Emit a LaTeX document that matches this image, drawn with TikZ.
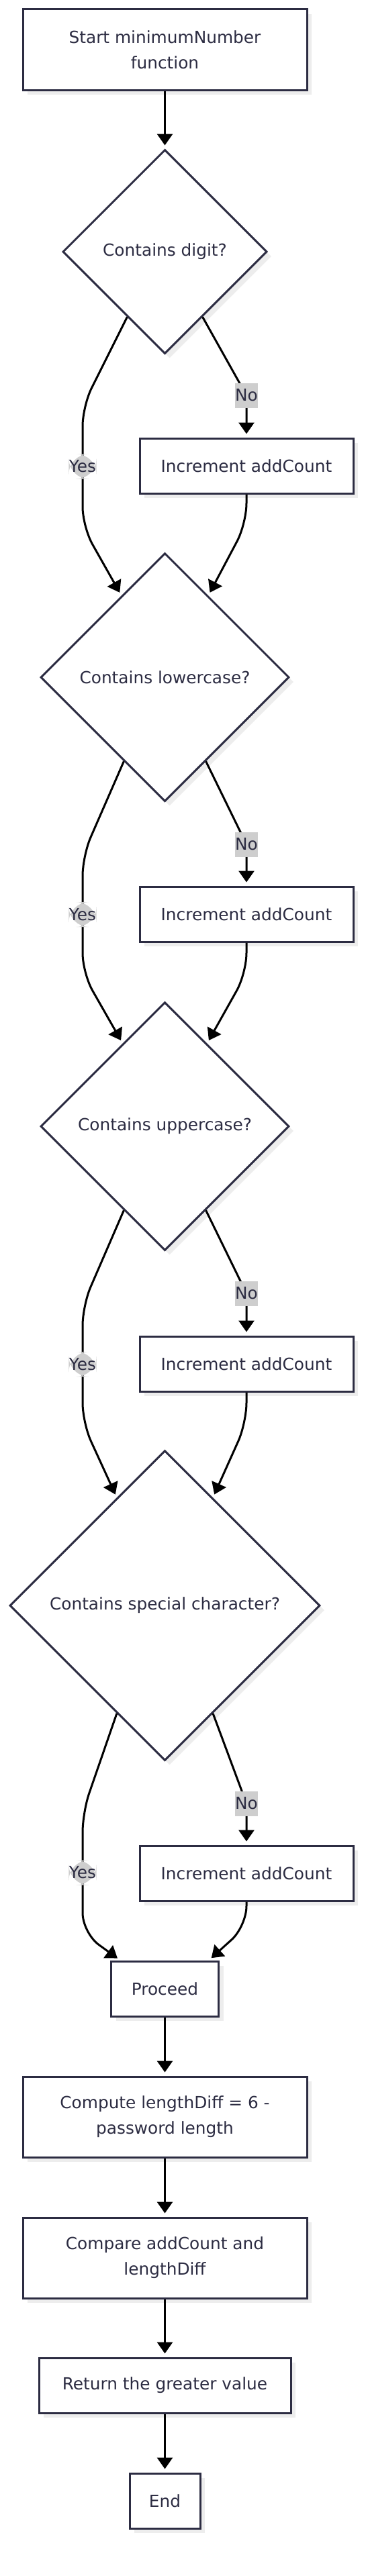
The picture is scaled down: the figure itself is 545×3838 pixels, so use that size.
\documentclass[tikz,border=0pt]{standalone}
\usepackage{fontspec}
\setmainfont{DejaVu Sans}
\usepackage{xcolor}
\usepackage{tikz}
\usetikzlibrary{shapes.geometric, arrows.meta, calc, shadows}

\definecolor{nodeline}{RGB}{44,44,66}
\definecolor{labelbg}{RGB}{206,206,206}

\begin{document}
\begin{tikzpicture}[x=1pt, y=-1pt]

\tikzstyle{procbox}=[rectangle, draw=nodeline, line width=3pt, fill=white, text=nodeline, align=center, inner sep=0pt, font=\fontsize{24.8}{38}\selectfont, drop shadow={shadow xshift=7pt, shadow yshift=-7pt, fill=black!7, opacity=1}]
\tikzstyle{decision}=[diamond, aspect=1, draw=nodeline, line width=3pt, fill=white, text=nodeline, inner sep=0pt, font=\fontsize{24.8}{38}\selectfont, drop shadow={shadow xshift=7pt, shadow yshift=-7pt, fill=black!7, opacity=1}]
\tikzstyle{edgelabel}=[fill=labelbg, text=nodeline, inner xsep=0.5pt, inner ysep=0pt, minimum height=37pt, font=\fontsize{24.8}{38}\selectfont]
\tikzstyle{flow}=[draw=black, line width=3pt, rounded corners=30pt, shorten >=5pt, -{Triangle[length=17pt, width=23pt]}]

\useasboundingbox (0,0) rectangle (545,3838);

\node (start) at (245.5,74) [procbox, minimum width=423pt, minimum height=120pt] {Start minimumNumber\\function};
\node (digit) at (245.5,375) [decision, minimum size=304pt] {Contains digit?};
\node (inc1) at (367,694) [procbox, minimum width=318pt, minimum height=82pt] {Increment addCount};
\node (lower) at (245.5,1009) [decision, minimum size=370pt] {Contains lowercase?};
\node (inc2) at (367,1362) [procbox, minimum width=318pt, minimum height=82pt] {Increment addCount};
\node (upper) at (245.5,1678) [decision, minimum size=370pt] {Contains uppercase?};
\node (inc3) at (367,2032) [procbox, minimum width=318pt, minimum height=82pt] {Increment addCount};
\node (special) at (245.5,2392) [decision, minimum size=462pt] {Contains special character?};
\node (inc4) at (367,2791) [procbox, minimum width=318pt, minimum height=82pt] {Increment addCount};
\node (proceed) at (245.5,2963) [procbox, minimum width=160pt, minimum height=82pt] {Proceed};
\node (diff) at (245.5,3154) [procbox, minimum width=423pt, minimum height=120pt] {Compute lengthDiff = 6 -\\password length};
\node (compare) at (245.5,3364) [procbox, minimum width=423pt, minimum height=120pt] {Compare addCount and\\lengthDiff};
\node (result) at (245.5,3554) [procbox, minimum width=375pt, minimum height=82pt] {Return the greater value};
\node (end) at (245.5,3726) [procbox, minimum width=105pt, minimum height=82pt] {End};

\draw [flow] (start) -- (digit);

% digit
\draw [flow] (digit.240) -- (123,605) -- node [edgelabel] (yes1) {Yes} (123,785) -- (lower.118);
\draw [flow, rounded corners=15pt] (digit.-60) -- (367,589) -- (inc1.north);
\node (no1) at (367,589) [edgelabel] {No};
\draw [flow] (inc1.south) -- (367,780) -- (lower.62);

% lowercase
\draw [flow] (lower.244) -- (123,1275) -- node [edgelabel] (yes2) {Yes} (123,1450) -- (upper.117);
\draw [flow, rounded corners=15pt] (lower.-64) -- (367,1258) -- (inc2.north);
\node (no2) at (367,1258) [edgelabel] {No};
\draw [flow] (inc2.south) -- (367,1450) -- (upper.63);

% uppercase
\draw [flow] (upper.244) -- (123,1945) -- node [edgelabel] (yes3) {Yes} (123,2120) -- (special.114);
\draw [flow, rounded corners=15pt] (upper.-64) -- (367,1927) -- (inc3.north);
\node (no3) at (367,1927) [edgelabel] {No};
\draw [flow] (inc3.south) -- (367,2120) -- (special.66);

% special character
\draw [flow] (special.246) -- (123,2700) -- node [edgelabel] (yes4) {Yes} (123,2880) -- ($(proceed.north west)+(15,0)$);
\draw [flow, rounded corners=15pt] (special.-66) -- (367,2687) -- (inc4.north);
\node (no4) at (367,2687) [edgelabel] {No};
\draw [flow] (inc4.south) -- (367,2870) -- ($(proceed.north east)+(-16,0)$);

\draw [flow] (proceed) -- (diff);
\draw [flow] (diff) -- (compare);
\draw [flow] (compare) -- (result);
\draw [flow] (result) -- (end);

\end{tikzpicture}
\end{document}
